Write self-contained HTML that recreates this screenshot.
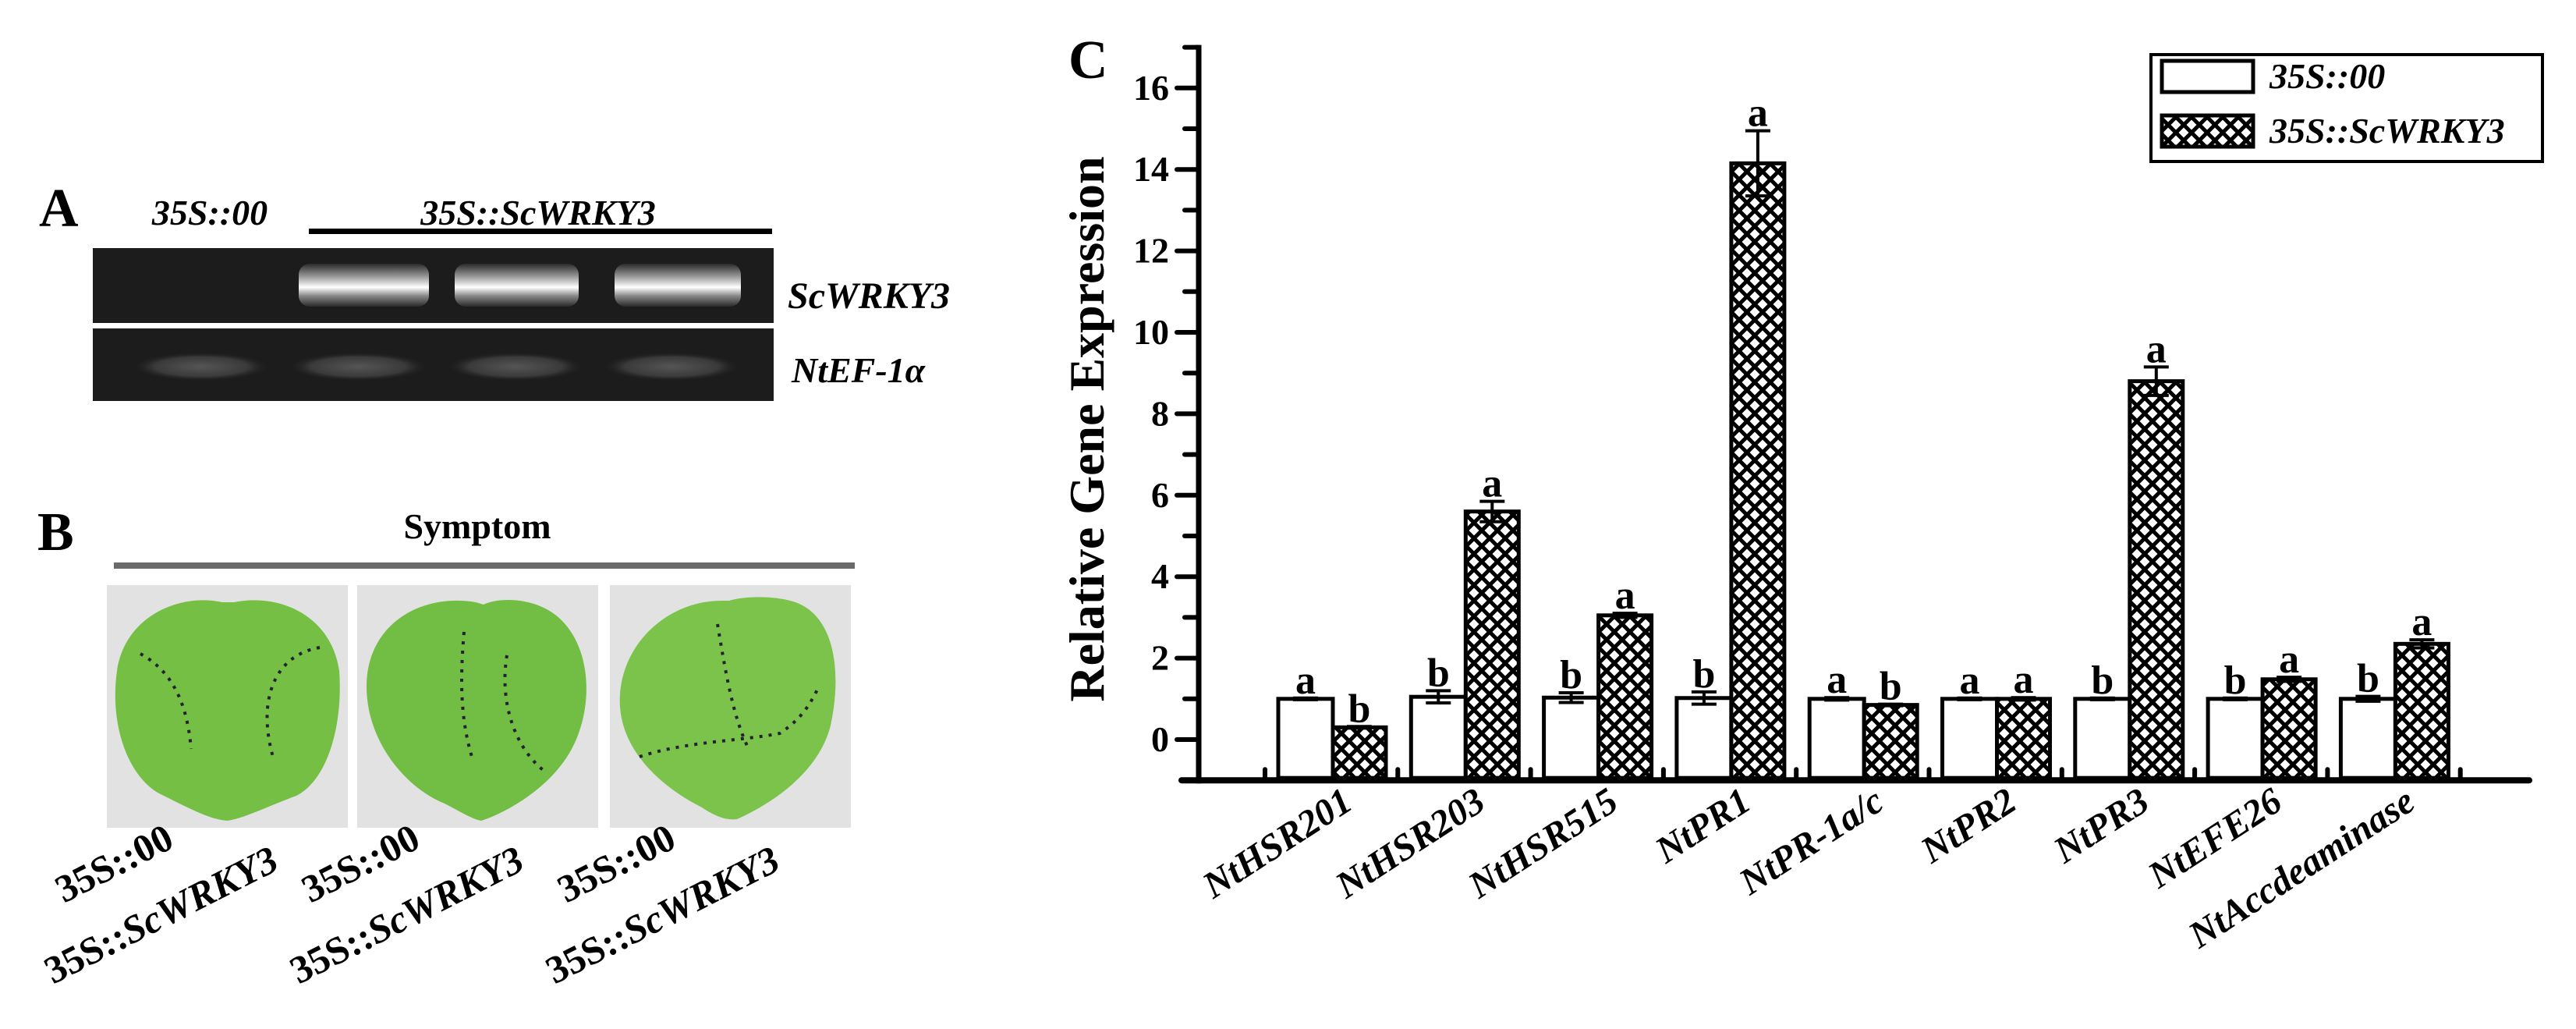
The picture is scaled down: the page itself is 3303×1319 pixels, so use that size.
<!DOCTYPE html>
<html><head><meta charset="utf-8"><style>
html,body{margin:0;padding:0;background:#fff;}
svg{display:block;font-family:"Liberation Serif",serif;}
</style></head><body>
<svg id="fig" width="3303" height="1319" viewBox="0 0 3303 1319" xmlns="http://www.w3.org/2000/svg">
<defs>
<pattern id="hatch" patternUnits="userSpaceOnUse" width="20" height="20">
<rect width="20" height="20" fill="#fff"/>
<path d="M-5,5 L5,-5 M0,20 L20,0 M15,25 L25,15 M-5,15 L5,25 M0,0 L20,20 M15,-5 L25,5" stroke="#000" stroke-width="5"/>
</pattern>
<linearGradient id="band" x1="0" y1="0" x2="0" y2="1">
<stop offset="0" stop-color="#2a2a2a"/><stop offset="0.3" stop-color="#999"/><stop offset="0.55" stop-color="#fff"/><stop offset="0.75" stop-color="#888"/><stop offset="1" stop-color="#2a2a2a"/>
</linearGradient>
<radialGradient id="band2" cx="50%" cy="50%" r="50%">
<stop offset="0" stop-color="#555"/><stop offset="0.7" stop-color="#3a3a3a"/><stop offset="1" stop-color="#222" stop-opacity="0"/>
</radialGradient>
</defs>

<!-- Panel A -->
<g>
<text x="50" y="290" font-size="70" font-weight="bold">A</text>
<text x="269" y="288" font-size="46" font-weight="bold" font-style="italic" text-anchor="middle">35S::00</text>
<text x="690" y="288" font-size="46" font-weight="bold" font-style="italic" text-anchor="middle">35S::ScWRKY3</text>
<rect x="396" y="293" width="594" height="7" fill="#000"/>
<rect x="119" y="318" width="873" height="96" fill="#1c1c1c"/>
<rect x="119" y="421" width="873" height="93" fill="#1c1c1c"/>
<rect x="383" y="338" width="167" height="55" rx="14" fill="url(#band)"/>
<rect x="583" y="338" width="159" height="55" rx="14" fill="url(#band)"/>
<rect x="788" y="338" width="162" height="55" rx="14" fill="url(#band)"/>
<rect x="172" y="452" width="172" height="36" fill="url(#band2)"/>
<rect x="372" y="452" width="175" height="36" fill="url(#band2)"/>
<rect x="575" y="452" width="172" height="36" fill="url(#band2)"/>
<rect x="775" y="452" width="172" height="36" fill="url(#band2)"/>
<text x="1010" y="395" font-size="48" font-weight="bold" font-style="italic">ScWRKY3</text>
<text x="1015" y="490" font-size="46" font-weight="bold" font-style="italic">NtEF-1α</text>
</g>

<!-- Panel B -->
<g>
<text x="48" y="705" font-size="70" font-weight="bold">B</text>
<text x="612" y="690" font-size="46" font-weight="bold" text-anchor="middle">Symptom</text>
<rect x="146" y="721" width="950" height="8" fill="#6a6a6a"/>
<g>
<rect x="137" y="750" width="309" height="311" fill="#e2e2e2"/>
<path d="M285,772 C230,760 160,790 150,860 C140,930 165,1000 210,1020 C250,1040 270,1050 291,1052 C310,1050 340,1035 380,1020 C420,1000 440,930 435,860 C425,790 360,760 300,772 Z" fill="#76bf45"/>
<path d="M180,838 C220,860 240,900 245,960" stroke="#223" stroke-width="4" stroke-dasharray="4 8" fill="none"/>
<path d="M410,830 C350,840 330,900 350,970" stroke="#223" stroke-width="4" stroke-dasharray="4 8" fill="none"/>
</g>
<g>
<rect x="458" y="750" width="309" height="311" fill="#e2e2e2"/>
<path d="M610,772 C540,760 470,800 470,880 C470,950 520,1010 570,1030 C590,1040 605,1050 617,1052 C640,1045 690,1020 720,980 C760,930 765,840 720,795 C690,765 640,765 620,775 Z" fill="#72bd43"/>
<path d="M595,810 C590,870 590,920 605,970" stroke="#223" stroke-width="4" stroke-dasharray="4 8" fill="none"/>
<path d="M650,840 C640,900 660,960 700,990" stroke="#223" stroke-width="4" stroke-dasharray="4 8" fill="none"/>
</g>
<g>
<rect x="782" y="750" width="309" height="311" fill="#e2e2e2"/>
<path d="M925,770 C860,770 800,820 795,890 C790,960 850,1010 900,1035 C915,1045 930,1052 945,1050 C990,1030 1050,990 1065,930 C1080,860 1070,790 1020,772 C990,762 950,765 935,770 Z" fill="#7cc34c"/>
<path d="M920,800 C930,860 940,920 960,960" stroke="#223" stroke-width="4" stroke-dasharray="4 8" fill="none"/>
<path d="M820,970 C880,950 950,950 1000,940 C1030,920 1040,900 1050,880" stroke="#223" stroke-width="4" stroke-dasharray="4 8" fill="none"/>
</g>
<g font-size="50" font-weight="bold">
<text transform="translate(82,1158) rotate(-27)">35S::00</text>
<text transform="translate(68,1262) rotate(-27)">35S::<tspan font-style="italic">ScWRKY3</tspan></text>
<text transform="translate(398,1158) rotate(-27)">35S::00</text>
<text transform="translate(383,1262) rotate(-27)">35S::<tspan font-style="italic">ScWRKY3</tspan></text>
<text transform="translate(726,1158) rotate(-27)">35S::00</text>
<text transform="translate(711,1262) rotate(-27)">35S::<tspan font-style="italic">ScWRKY3</tspan></text>
</g>
</g>

<!-- Panel C -->
<g id="chart">
<text x="1370" y="100" font-size="70" font-weight="bold">C</text>
<text transform="translate(1415,550) rotate(-90)" font-size="64" font-weight="bold" text-anchor="middle">Relative Gene Expression</text>
<g>
<rect x="2758" y="70" width="502" height="137" fill="#fff" stroke="#000" stroke-width="4"/>
<rect x="2772" y="78" width="117" height="40" fill="#fff" stroke="#000" stroke-width="5"/>
<text x="2910" y="113" font-size="46" font-weight="bold" font-style="italic">35S::00</text>
<rect x="2772" y="148" width="117" height="40" fill="url(#hatch)" stroke="#000" stroke-width="5"/>
<text x="2910" y="183" font-size="46" font-weight="bold" font-style="italic">35S::ScWRKY3</text>
</g>
</g>
</svg>
<script>
const categories = ["NtHSR201","NtHSR203","NtHSR515","NtPR1","NtPR-1a/c","NtPR2","NtPR3","NtEFE26","NtAccdeaminase"];
const controlValues = [1.0,1.05,1.03,1.02,1.0,1.0,1.0,1.0,1.0];
const controlErrors = [0.02,0.15,0.12,0.15,0.03,0.02,0.02,0.02,0.06];
const wrkyValues = [0.3,5.6,3.05,14.15,0.85,1.0,8.8,1.48,2.35];
const wrkyErrors = [0.02,0.25,0.05,0.8,0.02,0.03,0.35,0.05,0.1];
const controlLetters = ["a","b","b","b","a","a","b","b","b"];
const wrkyLetters = ["b","a","a","a","b","a","a","a","a"];
const yTicks = [0,2,4,6,8,10,12,14,16];

const NS = "http://www.w3.org/2000/svg";
const chart = document.getElementById("chart");
const x0 = 1537, yMin = -1, yMax = 17;
function yScale(v){ return 948 - v*52.2; }
function groupLeft(i){ return 1622 + i*170.3; }
function mk(tag, attrs){ const e=document.createElementNS(NS,tag); for(const k in attrs) e.setAttribute(k,attrs[k]); chart.appendChild(e); return e; }

let yAxis = mk("line",{x1:x0,y1:yScale(yMax)-3,x2:x0,y2:yScale(yMin)+4,stroke:"#000","stroke-width":7});


let xAxis = mk("line",{x1:x0-22,y1:yScale(yMin),x2:3243,y2:yScale(yMin),stroke:"#000","stroke-width":8,"stroke-linecap":"round"});


for(let v=yMin; v<=yMax; v++){
  const major = yTicks.includes(v);
  const t = mk("line",{x1:x0-(major?28:18),y1:yScale(v),x2:x0,y2:yScale(v),stroke:"#000","stroke-width":6,"stroke-linecap":"round"});
  
  
}
yTicks.forEach(v=>{
  const t = mk("text",{x:x0-38,y:yScale(v)+15,"font-size":46,"font-weight":"bold","text-anchor":"end"});
  t.textContent = v;
  
  
});
for(let i=0;i<=categories.length;i++){
  const gx = groupLeft(i);
  const t = mk("line",{x1:gx,y1:yScale(yMin),x2:gx,y2:yScale(yMin)-14,stroke:"#000","stroke-width":6,"stroke-linecap":"round"});
  
  
}
const y0 = yScale(yMin)-3;
function bar(xl, w, v, err, letter, fill, name){
  const top = yScale(v);
  const r = mk("rect",{x:xl,y:top,width:w,height:y0-top,fill:fill,stroke:"#000","stroke-width":5});
  
  
  const cx = xl + w/2;
  const eT = yScale(v+err), eB = yScale(v-err);
  const e = mk("path",{d:`M${cx},${eT} L${cx},${eB} M${cx-16},${eT} L${cx+16},${eT} M${cx-16},${eB} L${cx+16},${eB}`,stroke:"#000","stroke-width":4,fill:"none"});
  
  
  const l = mk("text",{x:cx,y:eT-6,"font-size":52,"font-weight":"bold","text-anchor":"middle"});
  l.textContent = letter;
  
  
}
categories.forEach((c,i)=>{
  const gx = groupLeft(i);
  bar(gx+17, 70, controlValues[i], controlErrors[i], controlLetters[i], "#fff", "bar-control-"+c.toLowerCase());
  bar(gx+87, 68, wrkyValues[i], wrkyErrors[i], wrkyLetters[i], "url(#hatch)", "bar-scwrky3-"+c.toLowerCase());
  const t = mk("text",{transform:`translate(${gx+115},1035) rotate(-33)`,"font-size":48,"font-weight":"bold","font-style":"italic","text-anchor":"end"});
  t.textContent = c;
  
  
});
</script>
</body></html>
